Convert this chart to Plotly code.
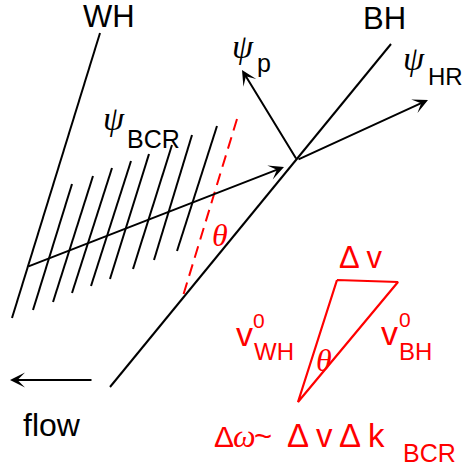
import plotly.graph_objects as go

# ---------------- diagram data (pixel coordinates, y downward) ----------------
wh_line = [(100, 33), (12, 318)]
bh_line = [(110, 387), (391, 44)]
hatch_tops = [(72, 184), (93, 176), (112, 168), (131, 161), (149, 154), (172, 145), (192, 135), (217, 126)]
hatch_bottoms = [(33, 310), (53, 302), (72, 293), (91, 286), (110, 279), (133, 269), (154, 260), (177, 251)]
red_dashed = [(237, 119), (183, 296)]
triangle = [(337, 280), (398, 282), (298, 402), (337, 280)]

# arrows: (tail, head)
black_arrows = [
    ((27, 267), (284, 167)),   # k_BCR
    ((297, 160), (242, 70)),   # psi_p
    ((297, 160), (428, 100)),  # psi_HR
    ((93, 380), (10, 380)),    # flow
]

SANS = "Liberation Sans"
SERIF = "Liberation Serif"
BLACK = "black"
RED = "#ff0000"

# text pieces: (text, x, baseline, size, family, color, xanchor)
texts = [
    ("WH", 109, 27, 31, SANS, BLACK, "center"),
    ("BH", 384, 29, 31, SANS, BLACK, "center"),
    ("<i>ψ</i>", 114, 130, 34, SERIF, BLACK, "center"),
    ("BCR", 153, 148, 25, SANS, BLACK, "center"),
    ("<i>ψ</i>", 243, 58, 34, SERIF, BLACK, "center"),
    ("p", 257, 72, 25, SANS, BLACK, "left"),
    ("<i>ψ</i>", 414, 70, 34, SERIF, BLACK, "center"),
    ("HR", 428, 85, 24, SANS, BLACK, "left"),
    ("flow", 52, 436, 32, SANS, BLACK, "center"),
    ("<i>θ</i>", 220, 246, 32, SERIF, RED, "center"),
    ("Δ v", 339, 268, 31, SANS, RED, "left"),
    ("v", 236, 346, 34, SANS, RED, "left"),
    ("0", 253, 328, 21, SANS, RED, "left"),
    ("WH", 254, 360, 24, SANS, RED, "left"),
    ("v", 381, 345, 34, SANS, RED, "left"),
    ("0", 399, 327, 21, SANS, RED, "left"),
    ("BH", 399, 360, 24, SANS, RED, "left"),
    ("<i>θ</i>", 324, 371, 32, SERIF, RED, "center"),
    ("Δ", 214, 447, 30, SANS, RED, "left"),
    ("<i>ω</i>", 233, 447, 32, SERIF, RED, "left"),
    ("~", 254, 447, 31, SANS, RED, "left"),
    ("Δ", 287, 447, 33, SANS, RED, "left"),
    ("v", 316, 447, 33, SANS, RED, "left"),
    ("Δ", 339, 447, 33, SANS, RED, "left"),
    ("k", 368, 447, 33, SANS, RED, "left"),
    ("BCR", 403, 462, 25, SANS, RED, "left"),
]

# (ascent, descent) as fractions of font size
METRICS = {SANS: (0.905, 0.212), SERIF: (0.891, 0.216)}

# ---------------- figure ----------------
fig = go.Figure()


def seg_xy(pairs):
    xs, ys = [], []
    for (a, b) in pairs:
        xs += [a[0], b[0], None]
        ys += [a[1], b[1], None]
    return xs, ys


black_segments = [tuple(wh_line), tuple(bh_line)] + list(zip(hatch_tops, hatch_bottoms))
bx, by = seg_xy(black_segments)
fig.add_trace(go.Scatter(x=bx, y=by, mode="lines", line=dict(color=BLACK, width=2), hoverinfo="skip"))

fig.add_trace(go.Scatter(x=[p[0] for p in red_dashed], y=[p[1] for p in red_dashed], mode="lines",
                         line=dict(color=RED, width=2, dash="12px,7px"), hoverinfo="skip"))

fig.add_trace(go.Scatter(x=[p[0] for p in triangle], y=[p[1] for p in triangle], mode="lines",
                         line=dict(color=RED, width=2.2), hoverinfo="skip"))

for tail, head in black_arrows:
    fig.add_annotation(x=head[0], y=head[1], ax=tail[0], ay=tail[1], xref="x", yref="y",
                       axref="x", ayref="y", text="", showarrow=True, arrowhead=3,
                       arrowsize=1.25, arrowwidth=2, arrowcolor=BLACK, standoff=0, startstandoff=0)

for (t, x, base, size, fam, col, xa) in texts:
    asc, desc = METRICS[fam]
    ymid = base - (asc - desc) / 2 * size
    fig.add_annotation(x=x, y=ymid, xref="x", yref="y", text=t,
                       showarrow=False, xanchor=xa, yanchor="middle", borderpad=0, borderwidth=0,
                       font=dict(family=fam, size=size, color=col))

fig.update_layout(
    width=463, height=468, margin=dict(l=0, r=0, t=0, b=0),
    paper_bgcolor="white", plot_bgcolor="white", showlegend=False,
    xaxis=dict(range=[0, 463], visible=False, fixedrange=True),
    yaxis=dict(range=[468, 0], visible=False, fixedrange=True),
)

fig.write_html("out.html")
